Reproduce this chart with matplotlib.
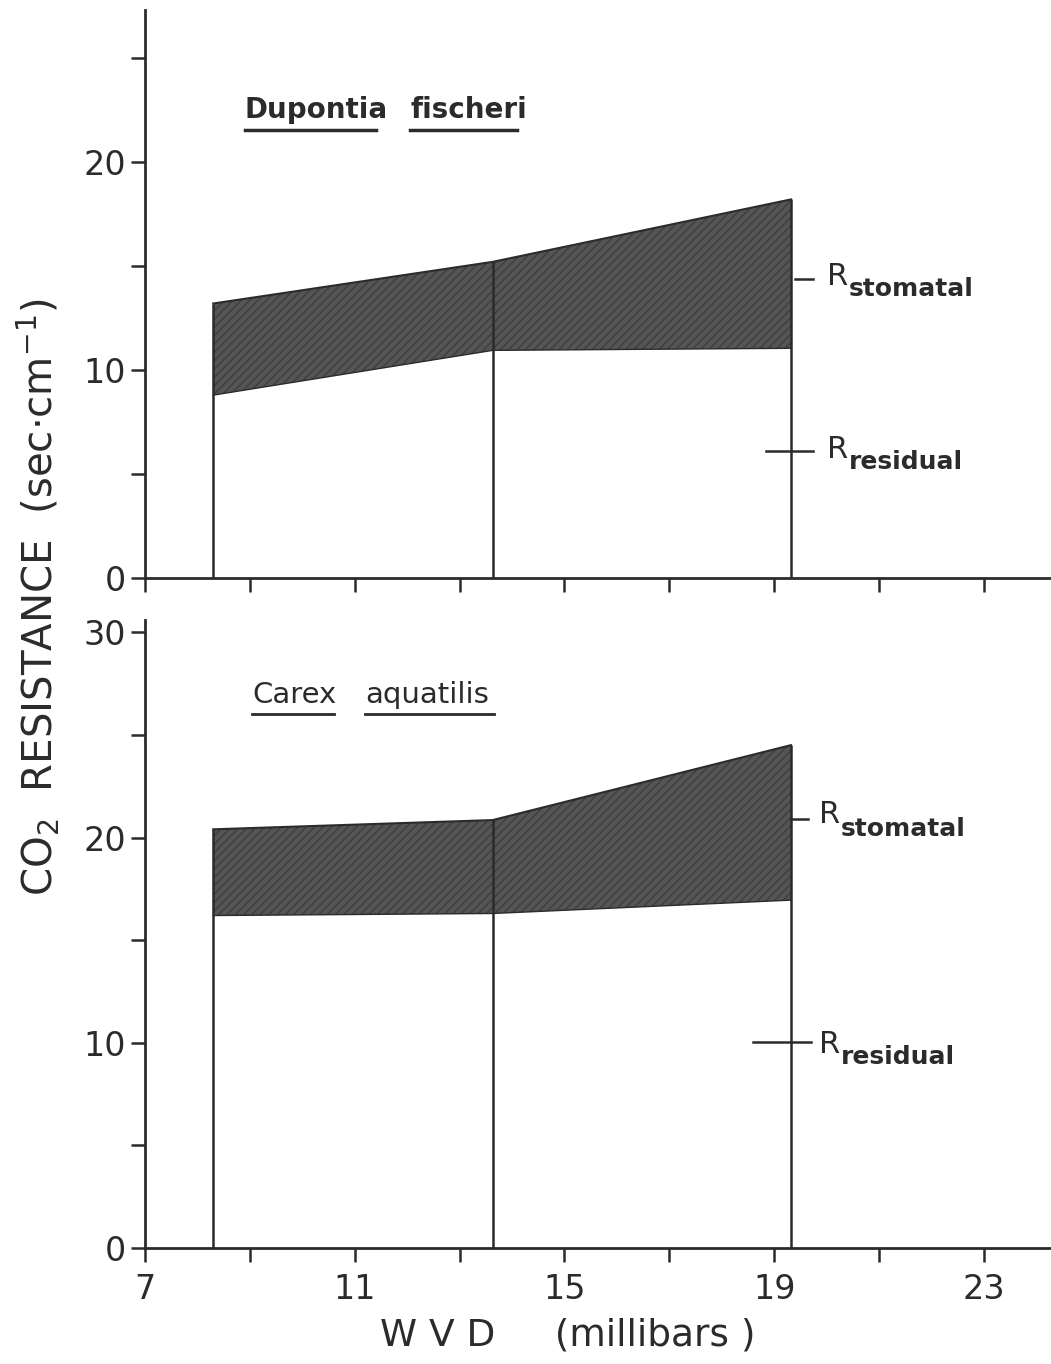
import matplotlib
matplotlib.use("Agg")
import matplotlib.pyplot as plt
import numpy as np

plt.rcParams["font.family"] = ["DejaVu Sans"]

# WVD (millibars) at which resistances were measured
wvd = [8.3, 13.63, 19.32]

# Dupontia fischeri (sec/cm)
dup_residual = [8.8, 10.95, 11.05]
dup_total = [13.2, 15.2, 18.2]

# Carex aquatilis (sec/cm)
car_residual = [16.2, 16.3, 16.95]
car_total = [20.4, 20.85, 24.5]

x_ticks = [7, 9, 11, 13, 15, 17, 19, 21, 23]
x_ticklabels = ["7", "", "11", "", "15", "", "19", "", "23"]

INK = "#2b2b2b"
FILL = "#555555"

fig = plt.figure(figsize=(10.51, 13.64), dpi=100)
ax_top = fig.add_axes([0.138, 0.576, 0.862, 0.4167])
ax_bot = fig.add_axes([0.138, 0.085, 0.862, 0.4605])


def draw_panel(ax, residual, total, ylim, yticks, ylabels):
    ax.fill_between(wvd, residual, total, color=FILL, hatch="////",
                    edgecolor="#3e3e3e", linewidth=0)
    ax.plot(wvd, total, color=INK, linewidth=1.5)
    ax.plot(wvd, residual, color=INK, linewidth=1.0)
    ax.vlines(wvd, 0, total, color=INK, linewidth=1.8)
    ax.set_xlim(7, 24.28)
    ax.set_ylim(*ylim)
    ax.set_xticks(x_ticks)
    ax.set_yticks(yticks)
    ax.set_yticklabels(ylabels)
    for s in ["top", "right"]:
        ax.spines[s].set_visible(False)
    for s in ["left", "bottom"]:
        ax.spines[s].set_linewidth(2.0)
        ax.spines[s].set_color(INK)
    ax.tick_params(axis="both", direction="out", length=10, width=1.8,
                   color=INK, labelsize=24, labelcolor=INK)


draw_panel(ax_top, dup_residual, dup_total, (0, 27.3),
           [0, 5, 10, 15, 20, 25], ["0", "", "10", "", "20", ""])
ax_top.tick_params(axis="x", labelbottom=False)

draw_panel(ax_bot, car_residual, car_total, (0, 30.6),
           [0, 5, 10, 15, 20, 25, 30], ["0", "", "10", "", "20", "", "30"])
ax_bot.set_xticklabels(x_ticklabels)
ax_bot.tick_params(axis="x", pad=8)

# species names, underlined word by word
ax_top.text(8.9, 22.5, "Dupontia", fontsize=20, fontweight="bold", color=INK, va="center")
ax_top.text(12.06, 22.5, "fischeri", fontsize=20, fontweight="bold", color=INK, va="center")
ax_top.plot([8.9, 11.4], [21.55, 21.55], color=INK, linewidth=2.5)
ax_top.plot([12.06, 14.1], [21.55, 21.55], color=INK, linewidth=2.5)

ax_bot.text(9.04, 26.95, "Carex", fontsize=21, color=INK, va="center")
ax_bot.text(11.2, 26.95, "aquatilis", fontsize=21, color=INK, va="center")
ax_bot.plot([9.04, 10.6], [26.0, 26.0], color=INK, linewidth=2.0)
ax_bot.plot([11.2, 13.66], [26.0, 26.0], color=INK, linewidth=2.0)

# resistance labels with pointer ticks
ax_top.plot([19.4, 19.75], [14.4, 14.4], color=INK, linewidth=1.8)
ax_top.text(20.0, 14.5, "R", fontsize=22, color=INK, va="center")
ax_top.text(20.42, 13.9, "stomatal", fontsize=18, fontweight="bold", color=INK, va="center")
ax_top.plot([18.85, 19.75], [6.1, 6.1], color=INK, linewidth=1.8)
ax_top.text(20.0, 6.2, "R", fontsize=22, color=INK, va="center")
ax_top.text(20.42, 5.6, "residual", fontsize=18, fontweight="bold", color=INK, va="center")

ax_bot.plot([19.32, 19.65], [20.9, 20.9], color=INK, linewidth=1.8)
ax_bot.text(19.85, 21.1, "R", fontsize=22, color=INK, va="center")
ax_bot.text(20.27, 20.4, "stomatal", fontsize=18, fontweight="bold", color=INK, va="center")
ax_bot.plot([18.6, 19.7], [10.05, 10.05], color=INK, linewidth=1.8)
ax_bot.text(19.85, 9.9, "R", fontsize=22, color=INK, va="center")
ax_bot.text(20.27, 9.3, "residual", fontsize=18, fontweight="bold", color=INK, va="center")

fig.text(0.036, 0.562, r"CO$_2$  RESISTANCE  (sec$\cdot$cm$^{-1}$)", rotation=90,
         fontsize=29, color=INK, ha="center", va="center")
fig.text(0.54, 0.021, "W V D     (millibars )", fontsize=27, color=INK,
         ha="center", va="center")

fig.savefig("out.png", dpi=100, facecolor="white")
